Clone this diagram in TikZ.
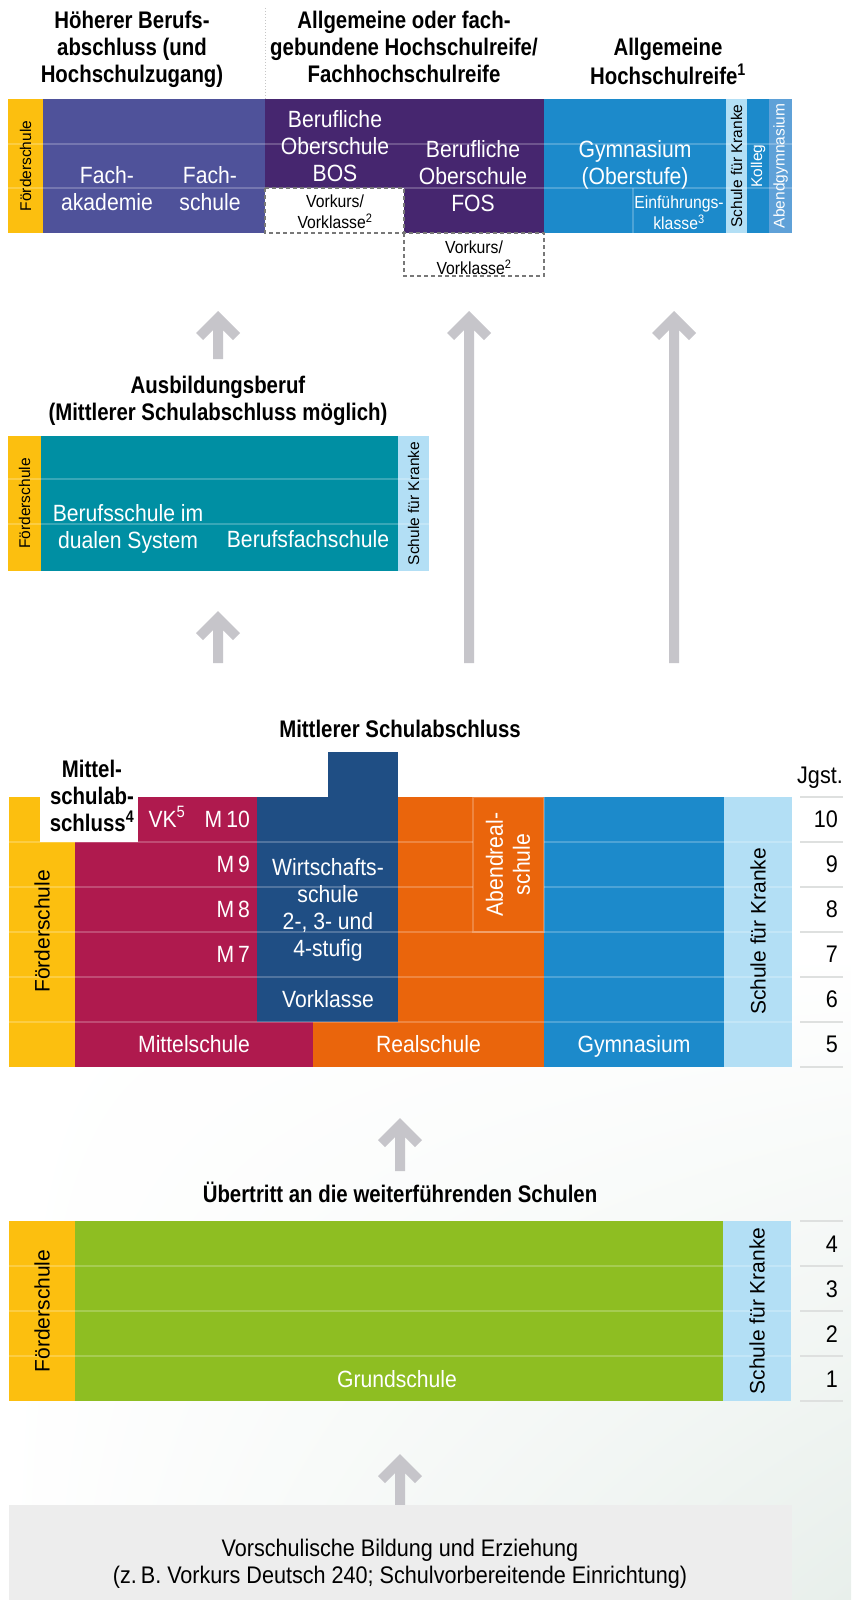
\documentclass[tikz,border=0pt]{standalone}
\usepackage{fontspec}
\setmainfont{Liberation Sans}[FakeStretch=0.9]
\newfontfamily\hdfont{Liberation Sans}[FakeStretch=0.85]
\newfontfamily\widefont{Liberation Sans}
\usetikzlibrary{shadings}
\definecolor{foerder}{RGB}{252,191,15}
\definecolor{slate}{RGB}{79,82,154}
\definecolor{purp}{RGB}{70,38,111}
\definecolor{gym}{RGB}{28,138,203}
\definecolor{kranke}{RGB}{179,223,245}
\definecolor{abendg}{RGB}{95,161,216}
\definecolor{tealb}{RGB}{0,143,163}
\definecolor{crim}{RGB}{175,26,78}
\definecolor{dblue}{RGB}{31,78,132}
\definecolor{orng}{RGB}{234,101,12}
\definecolor{grn}{RGB}{142,190,34}
\definecolor{arrg}{RGB}{198,197,202}
\definecolor{boxg}{RGB}{237,237,237}
\definecolor{bgR}{RGB}{232,239,235}
\definecolor{sepg}{RGB}{222,224,223}
\definecolor{dashg}{RGB}{120,120,120}
\tikzset{
  txt/.style={inner sep=0pt, text=white, font=\fontsize{23.5}{27}\selectfont, align=center},
  txtb/.style={txt, text=black, font=\fontsize{24}{27}\selectfont},
  small/.style={inner sep=0pt, text=black, font=\fontsize{17.5}{18}\selectfont, align=center},
  head/.style={inner sep=0pt, text=black, font=\hdfont\bfseries\fontsize{24}{27}\selectfont, align=center},
  vlab/.style={inner sep=0pt, rotate=90, text=black, font=\widefont\fontsize{15.5}{17}\selectfont},
  vbig/.style={inner sep=0pt, rotate=90, text=black, font=\widefont\fontsize{21}{24}\selectfont},
  num/.style={inner sep=0pt, anchor=base east, text=black, font=\fontsize{24}{27}\selectfont},
  rowline/.style={draw=white, draw opacity=0.22, line width=1.5pt},
  sepline/.style={draw=sepg, line width=1.5pt},
  dashbox/.style={draw=dashg, dash pattern=on 4pt off 3pt, line width=1.4pt, fill=white},
}
\newcommand\grayarrow[3]{%
  \fill[arrg] (#1,#2) -- ++(22,22) -- ++(-7.07,7.07) -- (#1+5,#2+19.14) -- (#1+5,#3)
    -- (#1-5,#3) -- (#1-5,#2+19.14) -- (#1-14.93,#2+29.07) -- (#1-22,#2+22) -- cycle;}
\begin{document}
\begin{tikzpicture}[x=1pt,y=-1pt]
\useasboundingbox (0,0) rectangle (851,1600);
\fill[white] (0,0) rectangle (851,1600);
\shade[upper left=white, upper right=white, lower left=white, lower right=bgR] (0,950) rectangle (851,1600);

% ---------- top headers ----------
\node[head, anchor=north] (h1) at (132,9.1) {\strut H\"oherer Berufs-\\abschluss (und\\Hochschulzugang)};
\node[head, anchor=north] (h2) at (404,9.1) {\strut Allgemeine oder fach-\\gebundene Hochschulreife/\\Fachhochschulreife};
\node[head, anchor=north] (h3) at (668,36.1) {\strut Allgemeine\\Hochschulreife\textsuperscript{1}};
\coordinate (dt) at (265,8);
\coordinate (db) at (265,99);
\draw[gray!45, dotted, line width=1pt] (dt) -- (db);

% ---------- top block ----------
\fill[foerder] (8,99) rectangle (43,233);
\fill[slate] (43,99) rectangle (265,233);
\fill[purp] (265,99) rectangle (544,233);
\fill[gym] (544,99) rectangle (726,233);
\fill[kranke] (726,99) rectangle (747,233);
\fill[gym] (747,99) rectangle (769,233);
\fill[abendg] (769,99) rectangle (792,233);
\draw[rowline] (8,144) -- (792,144);
\draw[rowline] (8,188) -- (792,188);
\draw[rowline] (633,188) -- (633,233);
\draw[dashbox] (265,188) rectangle (404,233);
\draw[dashbox] (404,233) rectangle (544,276);

\node[vlab] (tf) at (25.5,166) {Förderschule};
\node[txt, anchor=north] (fak) at (107,164.1) {\strut Fach-\\akademie};
\node[txt, anchor=north] (fs) at (210,164.1) {\strut Fach-\\schule};
\node[txt, anchor=north] (bos) at (335,108.1) {\strut Berufliche\\Oberschule\\BOS};
\node[txt, anchor=north] (fos) at (473,138.1) {\strut Berufliche\\Oberschule\\FOS};
\node[txt, anchor=north] (gymo) at (635,138.1) {\strut Gymnasium\\(Oberstufe)};
\node[small, text=white, anchor=north] (einf) at (679,195.4) {\strut Einführungs-\\klasse\textsuperscript{3}};
\node[small, anchor=north] (vk1) at (335,194.4) {\strut Vorkurs/\\Vorklasse\textsuperscript{2}};
\node[small, anchor=north] (vk2) at (474,240.4) {\strut Vorkurs/\\Vorklasse\textsuperscript{2}};
\node[vlab] (tsk) at (736.5,166) {Schule für Kranke};
\node[vlab, text=white] (kol) at (758,166) {Kolleg};
\node[vlab, text=white] (abg) at (780.5,166) {Abendgymnasium};

% ---------- arrows upper ----------
\grayarrow{218}{311}{359}
\grayarrow{469}{311}{663}
\grayarrow{674}{311}{663}
\grayarrow{218}{611}{663}

% ---------- Ausbildung block ----------
\node[head, anchor=north] (h4) at (218,374.1) {\strut Ausbildungsberuf\\(Mittlerer Schulabschluss möglich)};
\fill[foerder] (8,436) rectangle (41,571);
\fill[tealb] (41,436) rectangle (398,571);
\fill[kranke] (398,436) rectangle (429,571);
\draw[rowline] (8,479) -- (429,479);
\draw[rowline] (8,524) -- (429,524);
\node[vlab] (af) at (24.5,503.5) {Förderschule};
\node[vlab] (ask) at (413.5,503.5) {Schule für Kranke};
\node[txt, anchor=north] (bsd) at (128,502.1) {\strut Berufsschule im\\dualen System};
\node[txt, anchor=base] (bfs) at (308,547) {Berufsfachschule};

% ---------- Sekundarstufe I ----------
\node[head, anchor=base] (h5) at (400,737) {Mittlerer Schulabschluss};
\fill[foerder] (9,797) rectangle (40,842);
\fill[foerder] (9,842) rectangle (75,1067);
\fill[crim] (138,797) rectangle (257,842);
\fill[crim] (75,842) rectangle (257,1022);
\fill[crim] (75,1022) rectangle (313,1067);
\fill[dblue] (257,797) rectangle (398,1022);
\fill[dblue] (328,752) rectangle (398,797);
\fill[orng] (398,797) rectangle (544,1022);
\fill[orng] (313,1022) rectangle (544,1067);
\fill[gym] (544,797) rectangle (724,1067);
\fill[kranke] (724,797) rectangle (792,1067);
\draw[rowline] (9,842) -- (473,842);
\draw[rowline] (544,842) -- (792,842);
\draw[rowline] (9,887) -- (473,887);
\draw[rowline] (544,887) -- (792,887);
\draw[rowline] (9,932) -- (792,932);
\draw[rowline] (9,977) -- (792,977);
\draw[rowline] (9,1022) -- (792,1022);
\draw[rowline] (473,797) rectangle (544,932);

\node[head, anchor=north] (msa) at (92,758.1) {\strut Mittel-\\schulab-\\schluss\textsuperscript{4}};
\node[txt, anchor=base] (vk5) at (167,827) {VK\textsuperscript{5}};
\node[txt, anchor=base east] (m10) at (250,827) {M\,10};
\node[txt, anchor=base east] (m9) at (250,872) {M\,9};
\node[txt, anchor=base east] (m8) at (250,917) {M\,8};
\node[txt, anchor=base east] (m7) at (250,962) {M\,7};
\node[txt, anchor=north] (ws) at (328,856.1) {\strut Wirtschafts-\\schule\\2-, 3- und\\4-stufig};
\node[txt, anchor=base] (vkl) at (328,1007) {Vorklasse};
\node[txt, anchor=base] (ms) at (194,1052) {Mittelschule};
\node[txt, anchor=base] (rs) at (428.5,1052) {Realschule};
\node[txt, anchor=base] (gy) at (634,1052) {Gymnasium};
\node[txt, rotate=90] (ars) at (508,864.5) {Abendreal-\\schule};
\node[vbig] (mf) at (42,931.5) {Förderschule};
\node[vbig] (msk) at (758,931.5) {Schule für Kranke};

\node[num] (jg) at (843,783) {Jgst.};
\foreach \n/\yy in {10/827,9/872,8/917,7/962,6/1007,5/1052}
  \node[num] (n\n) at (838,\yy) {\n};
\foreach \yy in {797,842,887,932,977,1022,1067}
  \draw[sepline] (800,\yy) -- (843,\yy);

% ---------- arrow + Grundschule ----------
\grayarrow{400}{1118}{1171}
\node[head, anchor=base] (h6) at (400,1202) {Übertritt an die weiterführenden Schulen};
\fill[foerder] (9,1221) rectangle (75,1401);
\fill[grn] (75,1221) rectangle (723,1401);
\fill[kranke] (723,1221) rectangle (791,1401);
\draw[rowline] (9,1266) -- (791,1266);
\draw[rowline] (9,1311) -- (791,1311);
\draw[rowline] (9,1356) -- (791,1356);
\node[vbig] (gf) at (42,1311) {Förderschule};
\node[vbig] (gsk) at (757,1311) {Schule für Kranke};
\node[txt, anchor=base] (gs) at (397,1387) {Grundschule};
\foreach \n/\yy in {4/1252,3/1297,2/1342,1/1387}
  \node[num] (g\n) at (838,\yy) {\n};
\foreach \yy in {1221,1266,1311,1356,1401}
  \draw[sepline] (800,\yy) -- (843,\yy);

% ---------- Vorschule ----------
\grayarrow{400}{1454}{1505}
\fill[boxg] (9,1505) rectangle (792,1600);
\node[txtb, anchor=north] (vs) at (400,1537.1) {\strut Vorschulische Bildung und Erziehung\\(z.\,B. Vorkurs Deutsch 240; Schulvorbereitende Einrichtung)};
\end{tikzpicture}
\end{document}
